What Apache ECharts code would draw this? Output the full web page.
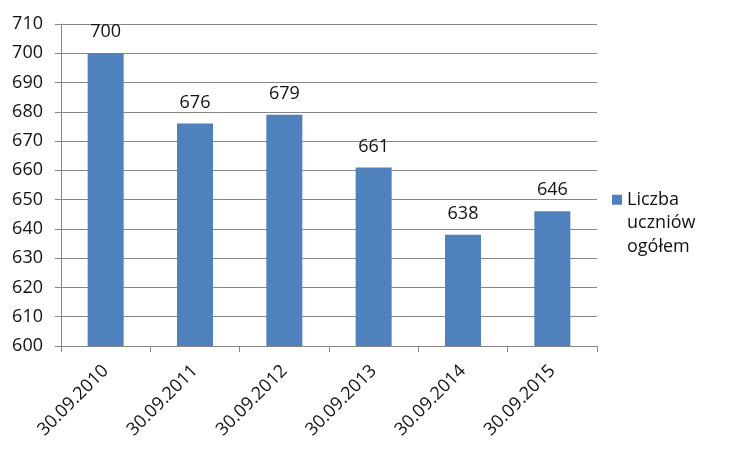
<!DOCTYPE html>
<html>
<head>
<meta charset="utf-8">
<script src="https://cdn.jsdelivr.net/npm/echarts@6/dist/echarts.min.js"></script>
<style>
html,body{margin:0;padding:0;background:#fff;}
#c{width:736px;height:461px;}
</style>
</head>
<body>
<div id="c"></div>
<script>
const categories = ['30.09.2010','30.09.2011','30.09.2012','30.09.2013','30.09.2014','30.09.2015'];
const values = [700, 676, 679, 661, 638, 646];
const seriesName = 'Liczba uczniów ogółem';
const yMin = 600, yMax = 710, yStep = 10;

const FONT = '"Open Sans", sans-serif';
const TXT = '#111111';
const LINE = '#868686';

const chart = echarts.init(document.getElementById('c'), null, {renderer: 'canvas'});
chart.setOption({
  animation: false,
  backgroundColor: '#fff',
  textStyle: {fontFamily: FONT},
  grid: {left: 61, right: 139, top: 24, bottom: 115, containLabel: false},
  legend: {
    orient: 'vertical',
    left: 612,
    top: 141,
    padding: 0,
    itemWidth: 10,
    itemHeight: 10,
    itemGap: 5,
    icon: 'rect',
    formatter: function (n) { return '\n\n' + n.split(' ').join('\n'); },
    textStyle: {fontFamily: FONT, fontSize: 18, color: TXT, lineHeight: 23.5},
    data: [seriesName]
  },
  xAxis: {
    type: 'category',
    data: categories,
    boundaryGap: true,
    axisLine: {lineStyle: {color: LINE, width: 1}},
    axisTick: {show: true, length: 6, alignWithLabel: false, lineStyle: {color: LINE}},
    axisLabel: {rotate: 45, margin: 22, fontFamily: FONT, fontSize: 18, color: TXT, interval: 0}
  },
  yAxis: {
    type: 'value',
    min: yMin, max: yMax, interval: yStep,
    axisLine: {show: true, lineStyle: {color: LINE, width: 1}},
    axisTick: {show: true, length: 6, lineStyle: {color: LINE}},
    splitLine: {show: true, lineStyle: {color: LINE, width: 1}},
    axisLabel: {margin: 18, fontFamily: FONT, fontSize: 18, color: TXT}
  },
  series: [{
    name: seriesName,
    type: 'bar',
    data: values,
    barWidth: 36,
    itemStyle: {color: '#4F81BD'},
    label: {show: true, position: 'top', distance: 12, fontFamily: FONT, fontSize: 18, color: TXT}
  }]
});
</script>
</body>
</html>
